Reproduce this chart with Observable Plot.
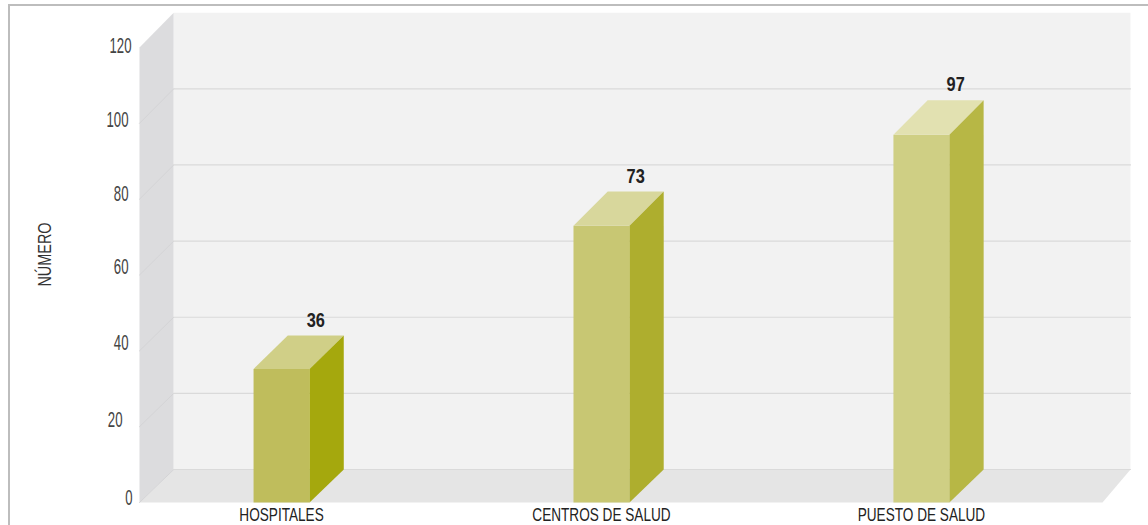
<!DOCTYPE html>
<html>
<head>
<meta charset="utf-8">
<script src="https://cdn.jsdelivr.net/npm/d3@7"></script>
<script src="https://cdn.jsdelivr.net/npm/@observablehq/plot@0.6"></script>
<style>
  html, body { margin: 0; padding: 0; background: #fff; overflow: hidden; }
  #frame { position: absolute; left: 8px; top: 4px; width: 1140px; height: 521px; box-sizing: border-box;
           border-left: 2px solid #bdbdbd; border-top: 2px solid #bdbdbd; }
  #chart { position: absolute; left: 0; top: 0; }
  #chart svg { background: transparent; display: block; }
</style>
</head>
<body>
<div id="frame"></div>
<div id="chart"></div>
<script>
// Data
const categories = ["HOSPITALES", "CENTROS DE SALUD", "PUESTO DE SALUD"];
const valueLabels = [36, 73, 97];
const barHeights = [35.2, 73, 97];        // height at which each bar is actually drawn
const frontColors = ["#bfbd5c", "#c8c773", "#cfcf84"];
const topColors = ["#d0cf87", "#d8d79c", "#e2e1b1"];
const sideColors = ["#a5a80d", "#aeae2e", "#b7b745"];
const yTicks = [0, 20, 40, 60, 80, 100, 120];
// The reference's y labels are hand-placed: small nudges per tick, in pixels
const yTickDx = [1, -9, -3, -3, -3, -3, 0];
const yTickDy = [-5, -7, -8, -8, -5, -3, -2];

// Chart geometry, in data units
const xLow = -0.444, xHigh = 2.566;       // front edge of the floor
const halfBar = 0.0875;                   // half of the bar width
const depthX = 0.107;                     // oblique depth offset of the back plane
const back = v => v * 1.004 + 8.7;        // value on the front plane -> same value on the back plane
const yMax = 120;
const floorBackRight = xHigh + 0.0875;

const pts = list => list.map(([x, y]) => ({x, y}));
const face = (points, fill) => Plot.line(pts(points), {x: "x", y: "y", fill, stroke: "none"});

const font = "'Liberation Sans', Arial, sans-serif";

const walls = [
  face([[xLow, 0], [xLow, yMax], [xLow + depthX, back(yMax)], [xLow + depthX, back(0)]], "#dcdcde"),
  face([[xLow + depthX, back(0)], [xLow + depthX, back(yMax)], [floorBackRight, back(yMax)], [floorBackRight, back(0)]], "#f2f2f2"),
  face([[xLow, 0], [xHigh, 0], [floorBackRight, back(0)], [xLow + depthX, back(0)]], "#e5e5e5")
];

const grid = yTicks.filter(t => t < yMax).flatMap(t => [
  Plot.line(pts([[xLow, t], [xLow + depthX, back(t)]]), {x: "x", y: "y", stroke: "#d4d4d6", strokeWidth: 1}),
  Plot.line(pts([[xLow + depthX, back(t)], [floorBackRight, back(t)]]), {x: "x", y: "y", stroke: "#dadada", strokeWidth: 1.2})
]);

const bars = categories.flatMap((_, i) => {
  const h = barHeights[i], a = i - halfBar, b = i + halfBar;
  return [
    face([[a, 0], [b, 0], [b, h], [a, h]], frontColors[i]),
    face([[a, h], [b, h], [b + depthX, back(h)], [a + depthX, back(h)]], topColors[i]),
    face([[b, 0], [b + depthX, back(0)], [b + depthX, back(h)], [b, h]], sideColors[i])
  ];
});

const labelData = categories.map((c, i) => ({x: i + depthX, y: back(barHeights[i]), t: String(valueLabels[i])}));

const plot = Plot.plot({
  width: 1148,
  height: 525,
  marginLeft: 139,
  marginRight: 46,
  marginTop: 47,
  marginBottom: 23,
  x: {domain: [xLow, xHigh]},
  y: {domain: [0, yMax]},
  style: {fontFamily: font, background: "transparent"},
  marks: [
    ...walls,
    ...grid,
    ...bars,
    Plot.text(labelData, {x: "x", y: "y", text: "t", dy: -15.5, fontSize: 21, fontWeight: "bold", fill: "#222"}),
    Plot.axisX({ticks: [0, 1, 2], tickFormat: i => categories[i], tickSize: 0, tickPadding: 5, fontSize: 19, fill: "#222", label: null}),
    ...yTicks.map((t, i) => Plot.axisY({ticks: [t], tickSize: 0, tickPadding: 8, dx: yTickDx[i], dy: yTickDy[i], fontSize: 22, fontWeight: 300, fill: "#444", label: null})),
    Plot.text(["NÚMERO"], {frameAnchor: "left", y: [65.4], dx: -95, rotate: -90, textAnchor: "middle", fontSize: 19, fill: "#333"})
  ]
});
document.getElementById("chart").append(plot);

// No condensed face is installed, so narrow the real text to the reference's widths
const squeeze = s => {
  if (yTicks.map(String).includes(s)) return 0.6;
  if (categories.includes(s)) return 0.716;
  if (valueLabels.map(String).includes(s)) return 0.78;
  return 0.76;
};
plot.querySelectorAll("text").forEach(el => {
  const s = el.textContent.trim();
  if (!s) return;
  const w = el.getComputedTextLength();
  el.setAttribute("textLength", (w * squeeze(s)).toFixed(1));
  el.setAttribute("lengthAdjust", "spacingAndGlyphs");
});
</script>
</body>
</html>
